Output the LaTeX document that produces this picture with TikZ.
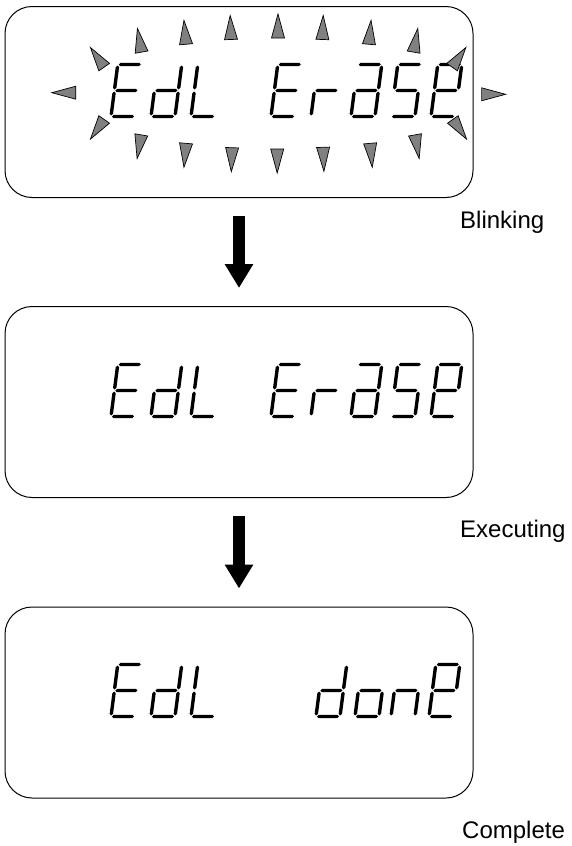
\documentclass[tikz,border=0pt]{standalone}
\usepackage{fontspec}
\setmainfont{Liberation Sans}
\usetikzlibrary{arrows.meta}
\newcommand\lcdh[3]{\fill (#1,#3) -- (#1+1.7,#3+1.7) -- (#2-1.7,#3+1.7) -- (#2,#3) -- (#2-1.7,#3-1.7) -- (#1+1.7,#3-1.7) -- cycle;}
\newcommand\lcdv[3]{\fill (#1,#2) -- (#1+1.7,#2+1.7) -- (#1+1.7,#3-1.7) -- (#1,#3) -- (#1-1.7,#3-1.7) -- (#1-1.7,#2+1.7) -- cycle;}
\newcommand\sgA{\lcdh{1}{23}{52}}
\newcommand\sgB{\lcdv{24}{27}{51}}
\newcommand\sgC{\lcdv{24}{1}{25}}
\newcommand\sgD{\lcdh{1}{23}{0}}
\newcommand\sgE{\lcdv{0}{1}{25}}
\newcommand\sgF{\lcdv{0}{27}{51}}
\newcommand\sgG{\lcdh{1}{23}{26}}
\newcommand\chE{\sgA\sgF\sgG\sgE\sgD}
\newcommand\chd{\sgB\sgC\sgD\sgE\sgG}
\newcommand\chL{\sgF\sgE\sgD}
\newcommand\chr{\sgE\sgG}
\newcommand\cha{\sgA\sgB\sgC\sgD\sgE\sgG}
\newcommand\chS{\sgA\sgF\sgG\sgC\sgD}
\newcommand\che{\sgA\sgB\sgF\sgG\sgE\sgD}
\newcommand\cho{\sgC\sgD\sgE\sgG}
\newcommand\chn{\sgC\sgE\sgG}
\newcommand\lcdchar[3]{\begin{scope}[shift={(#1,#2)},xslant=0.13]#3\end{scope}}
\newcommand\blink[3]{\begin{scope}[shift={(#1,-#2)},rotate=#3]\filldraw[blinkfill] (12,0) -- (-12,6.5) -- (-12,-6.5) -- cycle;\end{scope}}
\begin{document}
\begin{tikzpicture}[x=1pt,y=1pt,
  box/.style={draw=black,line width=1pt,rounded corners=27pt,minimum width=468pt,minimum height=191pt,inner sep=0pt},
  bigarrow/.style={line width=12pt,-{Triangle[width=27pt,length=24pt]},shorten <=18pt,shorten >=18pt},
  blinkfill/.style={fill=black!50,draw=black,line width=0.7pt},
  lab/.style={anchor=base west,inner sep=0pt,font=\fontsize{24}{28}\selectfont}]
\useasboundingbox (0,0) rectangle (571,-846);
\node[box] (b1) at (239,-102) {};
\node[box] (b2) at (239,-402) {};
\node[box] (b3) at (239,-702.5) {};
\draw[bigarrow] (b1.south) -- (b2.north);
\draw[bigarrow] (b2.south) -- (b3.north);
\node[lab] (l1) at (460,-228) {Blinking};
\node[lab] (l2) at (460,-537) {Executing};
\node[lab] (l3) at (462,-838) {Complete};
% box 1 text
\foreach \y in {-116.5,-416.5}{
  \lcdchar{111}{\y}{\chE}
  \lcdchar{151}{\y}{\chd}
  \lcdchar{191}{\y}{\chL}
  \lcdchar{271}{\y}{\chE}
  \lcdchar{311}{\y}{\chr}
  \lcdchar{351}{\y}{\cha}
  \lcdchar{391}{\y}{\chS}
  \lcdchar{431}{\y}{\che}
}
% box 3 text
\lcdchar{111}{-716.5}{\chE}
\lcdchar{151}{-716.5}{\chd}
\lcdchar{191}{-716.5}{\chL}
\lcdchar{316}{-716.5}{\chd}
\lcdchar{355}{-716.5}{\cho}
\lcdchar{391}{-716.5}{\chn}
\lcdchar{429}{-716.5}{\che}
% blinking marks
\blink{139.5}{40.3}{100}
\blink{185}{32.3}{95}
\blink{230.6}{27.5}{92}
\blink{278}{26}{90}
\blink{322.8}{27.5}{88}
\blink{370}{32.3}{85}
\blink{415.7}{40.3}{80}
\blink{97.3}{57.3}{125}
\blink{459}{57.3}{55}
\blink{63.8}{92.7}{180}
\blink{493.6}{94.3}{0}
\blink{97.3}{129.3}{235}
\blink{459.7}{129.3}{-55}
\blink{139.2}{146.7}{260}
\blink{185}{155.3}{265}
\blink{231.7}{159.7}{268}
\blink{277.2}{161}{270}
\blink{323.5}{159.3}{272}
\blink{371.2}{155.3}{275}
\blink{417.1}{146.7}{280}
\end{tikzpicture}
\end{document}
